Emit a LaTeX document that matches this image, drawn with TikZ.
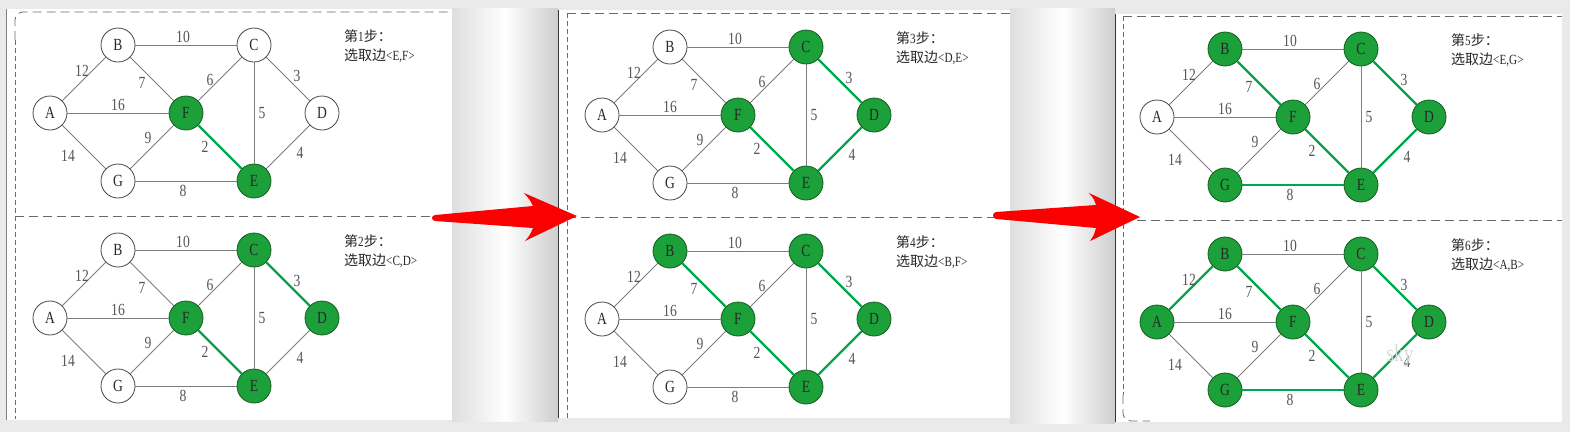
\documentclass[tikz,border=0pt]{standalone}
\usepackage{fontspec}
\setmainfont[FakeStretch=0.8]{Liberation Serif}
\newfontfamily\cjk{Noto Sans CJK SC}
\definecolor{bgc}{RGB}{234,234,234}
\definecolor{gapl}{RGB}{222,222,222}
\definecolor{gapr}{RGB}{206,206,206}
\definecolor{gfill}{RGB}{28,160,58}
\definecolor{gbord}{RGB}{22,90,32}
\definecolor{gline}{RGB}{0,166,78}
\definecolor{eline}{RGB}{125,125,125}
\definecolor{vbord}{RGB}{70,70,70}
\definecolor{lblc}{RGB}{85,85,85}
\definecolor{txtc}{RGB}{40,40,40}
\definecolor{dashc}{RGB}{105,105,105}
\definecolor{arrred}{RGB}{250,0,0}
\tikzset{
  vtx/.style={circle,minimum size=34pt,inner sep=0pt,draw=vbord,fill=white,line width=0.8pt,
    font=\fontsize{17}{17}\selectfont,text=txtc},
  gvtx/.style={fill=gfill,draw=gbord},
  plainedge/.style={draw=eline,line width=0.9pt},
  treeedge/.style={draw=gline,line width=2.2pt},
  lbl/.style={inner sep=0pt,text=lblc,font=\fontsize{17}{17}\selectfont},
  steptxt/.style={anchor=west,align=left,inner sep=0pt,text=txtc,font=\fontsize{14}{19}\selectfont},
  hdash/.style={draw=dashc,line width=0.8pt,dash pattern=on 9pt off 5pt},
  vdash/.style={draw=dashc,line width=0.8pt,dash pattern=on 5pt off 3pt},
  vA/.style={},vB/.style={},vC/.style={},vD/.style={},vE/.style={},vF/.style={},vG/.style={},
  eAB/.style={},eAF/.style={},eAG/.style={},eBC/.style={},eBF/.style={},eCF/.style={},
  eCD/.style={},eCE/.style={},eDE/.style={},eEF/.style={},eEG/.style={},eFG/.style={},
}
% #1 origin (node A), #2 name prefix, #3 overrides, #4 step, #5 edge text
\newcommand\kgraph[5]{%
\begin{scope}[shift={#1},#3]
  \node[vtx,vA] (#2A) at (0,0) {A};
  \node[vtx,vB] (#2B) at (68,-68) {B};
  \node[vtx,vC] (#2C) at (204,-68) {C};
  \node[vtx,vD] (#2D) at (272,0) {D};
  \node[vtx,vE] (#2E) at (204,68) {E};
  \node[vtx,vF] (#2F) at (136,0) {F};
  \node[vtx,vG] (#2G) at (68,68) {G};
  \draw[plainedge,eAB] (#2A) -- (#2B);
  \draw[plainedge,eAF] (#2A) -- (#2F);
  \draw[plainedge,eAG] (#2A) -- (#2G);
  \draw[plainedge,eBC] (#2B) -- (#2C);
  \draw[plainedge,eBF] (#2B) -- (#2F);
  \draw[plainedge,eCF] (#2C) -- (#2F);
  \draw[plainedge,eCD] (#2C) -- (#2D);
  \draw[plainedge,eCE] (#2C) -- (#2E);
  \draw[plainedge,eDE] (#2D) -- (#2E);
  \draw[plainedge,eEF] (#2E) -- (#2F);
  \draw[plainedge,eEG] (#2E) -- (#2G);
  \draw[plainedge,eFG] (#2F) -- (#2G);
  \node[lbl] (#2w10) at (133,-76) {10};
  \node[lbl] (#2w12) at (32,-42) {12};
  \node[lbl] (#2w7) at (92,-30) {7};
  \node[lbl] (#2w6) at (160,-33) {6};
  \node[lbl] (#2w3) at (247,-37) {3};
  \node[lbl] (#2w16) at (68,-8) {16};
  \node[lbl] (#2w5) at (212,0) {5};
  \node[lbl] (#2w9) at (98,25) {9};
  \node[lbl] (#2w2) at (155,34) {2};
  \node[lbl] (#2w14) at (18,43) {14};
  \node[lbl] (#2w4) at (250,40) {4};
  \node[lbl] (#2w8) at (133,78) {8};
  \node[steptxt] (#2txt) at (294,-67) {{\cjk 第}#4{\cjk 步：}\\{\cjk 选取边}<#5>};
\end{scope}}
\begin{document}
\begin{tikzpicture}[x=1pt,y=-1pt]
\useasboundingbox (0,0) rectangle (1570,432);
% background
\fill[bgc] (0,0) rectangle (1570,432);
\shade[left color=gapl,right color=gapr,middle color=white] (452,8) rectangle (558,421);
\shade[left color=gapl,right color=gapr,middle color=white] (1010,8) rectangle (1115,423);
% panels
\fill[white] (6,9) rectangle (452,420);
\fill[white] (558,10) rectangle (1010,418);
\fill[white] (1115,14) rectangle (1562,422);
\draw[draw=gray,line width=0.8pt] (6,9) -- (6,420);
\draw[draw=black!80,line width=1pt] (558,10) -- (558,418);
\draw[draw=black!80,line width=1pt] (1115,14) -- (1115,422);
% dashed frames
\draw[hdash,rounded corners=8pt] (15,40) -- (15,12) -- (452,12);
\draw[vdash] (15,40) -- (15,419);
\draw[hdash] (15,216) -- (452,216);
\draw[hdash] (567,13) -- (1010,13);
\draw[vdash] (567,13) -- (567,418);
\draw[hdash] (567,217) -- (1010,217);
\draw[hdash] (1123,16) -- (1562,16);
\draw[vdash] (1123,16) -- (1123,395);
\draw[hdash,rounded corners=8pt] (1123,395) -- (1123,421) -- (1150,421);
\draw[hdash] (1123,220) -- (1562,220);
% graphs
\kgraph{(50,113)}{a}{vE/.style={gvtx},vF/.style={gvtx},eEF/.style={treeedge}}{1}{E,F}
\kgraph{(50,318)}{b}{vC/.style={gvtx},vD/.style={gvtx},vE/.style={gvtx},vF/.style={gvtx},
  eEF/.style={treeedge},eCD/.style={treeedge}}{2}{C,D}
\kgraph{(602,115)}{c}{vC/.style={gvtx},vD/.style={gvtx},vE/.style={gvtx},vF/.style={gvtx},
  eEF/.style={treeedge},eCD/.style={treeedge},eDE/.style={treeedge}}{3}{D,E}
\kgraph{(602,319)}{d}{vB/.style={gvtx},vC/.style={gvtx},vD/.style={gvtx},vE/.style={gvtx},vF/.style={gvtx},
  eEF/.style={treeedge},eCD/.style={treeedge},eDE/.style={treeedge},eBF/.style={treeedge}}{4}{B,F}
\kgraph{(1157,117)}{e}{vB/.style={gvtx},vC/.style={gvtx},vD/.style={gvtx},vE/.style={gvtx},vF/.style={gvtx},vG/.style={gvtx},
  eEF/.style={treeedge},eCD/.style={treeedge},eDE/.style={treeedge},eBF/.style={treeedge},eEG/.style={treeedge}}{5}{E,G}
\kgraph{(1157,322)}{f}{vA/.style={gvtx},vB/.style={gvtx},vC/.style={gvtx},vD/.style={gvtx},vE/.style={gvtx},vF/.style={gvtx},vG/.style={gvtx},
  eEF/.style={treeedge},eCD/.style={treeedge},eDE/.style={treeedge},eBF/.style={treeedge},eEG/.style={treeedge},eAB/.style={treeedge}}{6}{A,B}
% watermark
\node[text=gray!30,font=\fontsize{24}{24}\selectfont,inner sep=0pt] (wm) at (1400,356) {sky};
% red arrows
\fill[arrred] (435,215) -- (533,206) .. controls (530,200) .. (524,193) -- (577,216) -- (525,241)
  .. controls (530,235) .. (533,228) -- (435,221) .. controls (431,220) and (431,216) .. (435,215) -- cycle;
\fill[arrred] (996,212) -- (1096,205) .. controls (1094,199) .. (1089,193) -- (1140,217) -- (1090,241)
  .. controls (1094,235) .. (1096,228) -- (996,219) .. controls (992,218) and (992,213) .. (996,212) -- cycle;
\end{tikzpicture}
\end{document}
